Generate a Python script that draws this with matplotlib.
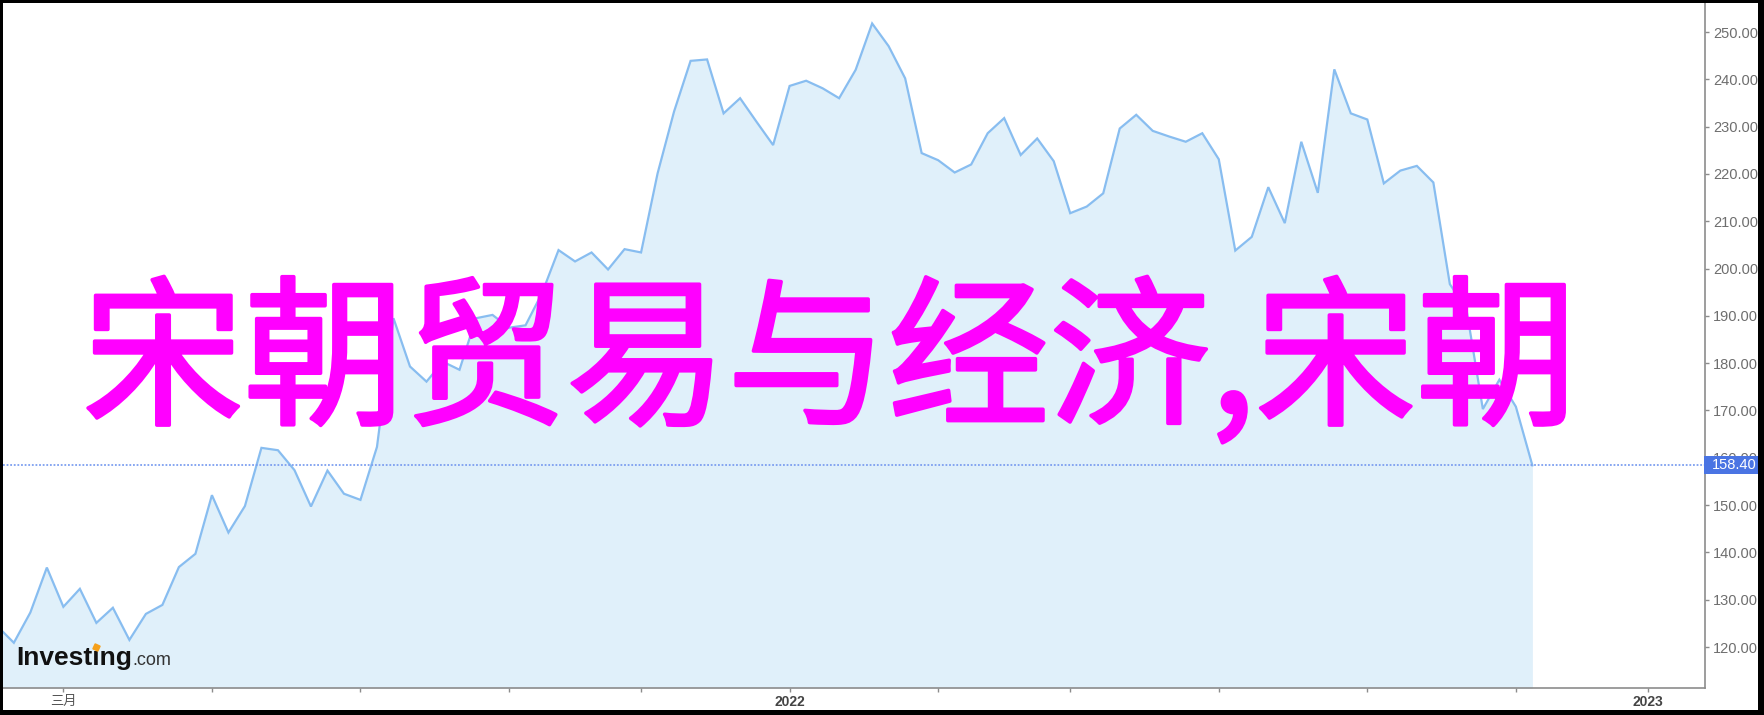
import matplotlib
matplotlib.use('Agg')
import matplotlib.pyplot as plt
import matplotlib.patheffects as pe
import pandas as pd
import numpy as np
from matplotlib.patches import Rectangle

# ---------------- data ----------------
start_date = '2021-02-01'          # weekly (Monday) closes
prices = [124.4, 120.9, 127.3, 136.8, 128.5, 132.3, 125.1, 128.3, 121.5, 127.0,
          128.9, 136.9, 139.7, 152.1, 144.2, 149.8, 162.1, 161.6, 157.4, 149.7,
          157.3, 152.4, 151.1, 162.3, 189.5, 179.3, 176.1, 180.3, 178.6, 189.5,
          190.2, 187.5, 188.0, 194.8, 203.9, 201.5, 203.4, 199.8, 204.1, 203.4,
          220.1, 233.2, 243.9, 244.2, 232.8, 236.0, 231.0, 226.1, 238.6, 239.7,
          238.1, 236.0, 242.0, 251.8, 247.0, 240.2, 224.4, 222.9, 220.3, 222.0,
          228.6, 231.8, 224.0, 227.5, 222.7, 211.7, 213.1, 215.9, 229.6, 232.5,
          229.1, 227.9, 226.8, 228.6, 223.1, 203.8, 206.7, 217.2, 209.6, 226.8,
          216.0, 242.1, 232.8, 231.5, 218.0, 220.7, 221.7, 218.2, 196.7, 191.5,
          170.3, 176.5, 170.8, 158.4]
last_price = 158.40
y_ticks = [120, 130, 140, 150, 160, 170, 180, 190, 200, 210, 220, 230, 240, 250]
tick_months = ['2021-03', '2021-05', '2021-07', '2021-09', '2021-11', '2022-01',
               '2022-03', '2022-05', '2022-07', '2022-09', '2022-11', '2023-01']
tick_labels = ['三月', '', '', '', '', '2022', '', '', '', '', '', '2023']
overlay_text = '宋朝贸易与经济,宋朝'
brand_main = 'Investıng'
brand_suffix = '.com'

# ---------------- figure ----------------
W, H = 1764, 715
fig = plt.figure(figsize=(W / 100, H / 100), dpi=100, facecolor='white')
ax = fig.add_axes([3 / W, 27 / H, 1702 / W, 685 / H])
ax.set_facecolor('white')

dates = pd.date_range(start_date, periods=len(prices), freq='7D')
all_weeks = pd.date_range(start_date, '2023-03-01', freq='7D')
tick_dates = []
for m in tick_months:
    p = pd.Period(m, 'M')
    tick_dates.append(all_weeks[(all_weeks.year == p.year) & (all_weeks.month == p.month)][0])

ylo, yhi = 111.34, 256.13
ax.fill_between(dates, prices, ylo, color='#e0f0fa', lw=0, zorder=1)
ax.plot(dates, prices, color='#88bdf0', lw=1.6, zorder=3, solid_joinstyle='miter')
ax.axhline(last_price, color='#7d9ff0', lw=1.3, linestyle=(0, (1, 1)), zorder=4)

ax.set_xlim(dates[0] + pd.Timedelta(days=2.4), pd.Timestamp('2023-01-26 05:00'))
ax.set_ylim(ylo, yhi)

for s in ['left', 'top']:
    ax.spines[s].set_visible(False)
for s in ['right', 'bottom']:
    ax.spines[s].set_color('#8c8c8c')
    ax.spines[s].set_linewidth(1.2)

ax.yaxis.tick_right()
ax.set_yticks(y_ticks)
ax.set_yticklabels([f'{v:.2f}' for v in y_ticks])
ax.tick_params(axis='y', colors='#8c8c8c', labelcolor='#6e6e6e', length=3,
               width=1, pad=3, labelsize=10.5)
for t in ax.get_yticklabels():
    t.set_family(['Liberation Sans', 'DejaVu Sans'])

ax.set_xticks(tick_dates)
ax.set_xticklabels(tick_labels)
ax.tick_params(axis='x', colors='#8c8c8c', labelcolor='#444444', length=3,
               width=1, pad=2, labelsize=10)
for t in ax.get_xticklabels():
    t.set_family(['Liberation Sans', 'Noto Sans CJK SC'])
    if t.get_text().isdigit():
        t.set_fontweight('bold')
    else:
        t.set_family(['Noto Sans CJK SC'])
        t.set_fontsize(9.5)
        t.set_color('#555555')

# last price label box on the right axis
ypix = ax.transData.transform((0, last_price))[1]
box = Rectangle((1704 / W, (ypix - 9) / H), 56 / W, 18 / H, transform=fig.transFigure,
                facecolor='#4a74e3', edgecolor='none', zorder=10)
fig.add_artist(box)
fig.text(1712 / W, ypix / H, f'{last_price:.2f}', color='white', fontsize=10.5,
         family=['Liberation Sans'], va='center', ha='left', zorder=11)

# big magenta overlay text
fig.text(830 / W, (H - 366) / H, overlay_text, color='#ff00ff', fontsize=116,
         family=['Noto Sans CJK SC', 'DejaVu Sans'], fontweight='normal',
         ha='center', va='center', zorder=20,
         path_effects=[pe.withStroke(linewidth=2.6, foreground='#ff00ff')])

# Investing.com logo
bx, by = 16 / W, (H - 665) / H
t1 = fig.text(bx, by, brand_main, color='#111111', fontsize=19, fontweight='bold',
              family=['Liberation Sans'], ha='left', va='baseline', zorder=6)
fig.canvas.draw()
r = fig.canvas.get_renderer()
e1 = t1.get_window_extent(r)
fig.text((e1.x1 + 1) / W, by, brand_suffix, color='#333333', fontsize=13,
         family=['Liberation Sans'], ha='left', va='baseline', zorder=6)
tmp = fig.text(bx, by, 'Investı', fontsize=19, fontweight='bold', family=['Liberation Sans'])
tmp2 = fig.text(bx, by, 'Invest', fontsize=19, fontweight='bold', family=['Liberation Sans'])
ex = (tmp.get_window_extent(r).x1 + tmp2.get_window_extent(r).x1) / 2
tmp.remove(); tmp2.remove()
fig.add_artist(plt.Line2D([ex / W], [(by * H + 18.5) / H], marker=(4, 0, 20), markersize=5.5,
                          color='#f5a01a', transform=fig.transFigure, zorder=7))

# outer black frame
for (x0, y0, w, h) in [(0, 0, 3, H), (0, H - 3, W, 3), (W - 6, 0, 6, H), (0, 0, W, 5)]:
    fig.add_artist(Rectangle((x0 / W, y0 / H), w / W, h / H, transform=fig.transFigure,
                             facecolor='black', edgecolor='none', zorder=30))

fig.savefig('out.png', dpi=100, facecolor='white')
